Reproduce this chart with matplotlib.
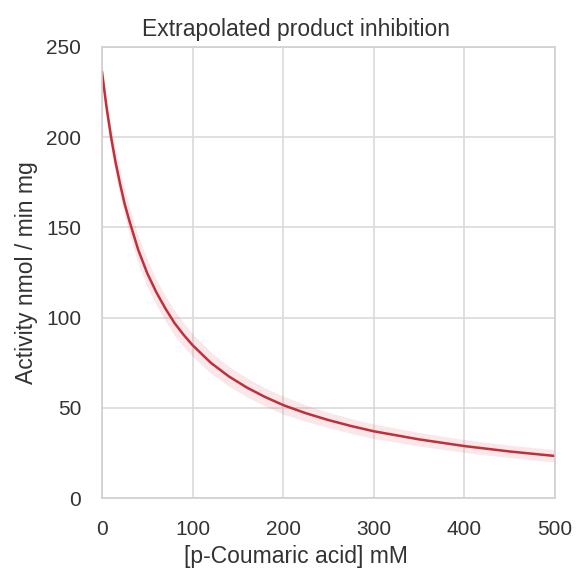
import matplotlib
matplotlib.use("Agg")
import matplotlib.pyplot as plt

plt.rcParams['font.family'] = ['Liberation Sans', 'DejaVu Sans']

# values
conc = [0, 5, 10, 15, 20, 25, 30, 40, 50, 60, 70, 80, 90, 100, 120, 140, 160, 180,
        200, 225, 250, 275, 300, 350, 400, 450, 500]
activity = [236, 216.5, 200, 186, 174, 163, 154, 137.5, 124.5, 114, 105, 97, 90.5, 84.7,
            75, 67.4, 61.2, 56, 51.5, 47, 43.2, 39.9, 37, 32.5, 28.8, 25.8, 23.3]
upper = [241, 222, 206.5, 193, 181, 170.5, 161.5, 145, 132, 121, 112, 104, 97, 91,
         81, 73, 66.5, 61, 56.5, 51.5, 47.5, 44, 41, 36.3, 32.4, 29.3, 26.8]
lower = [231, 211, 193.5, 179, 167, 156, 146.5, 130, 117, 107, 98, 90, 84, 78.5,
         69, 62, 56, 51, 46.5, 42.5, 39, 35.8, 33, 28.8, 25.3, 22.4, 19.9]

fig = plt.figure(figsize=(5.77, 5.71), dpi=100)
ax = fig.add_axes([0.1768, 0.1278, 0.7851, 0.7899])

ax.fill_between(conc, lower, upper, color='#d9606c', alpha=0.15, linewidth=0)
ax.plot(conc, activity, color='#c0303a', linewidth=1.8)

ax.set_xlim(0, 500)
ax.set_ylim(0, 250)
ax.set_xticks([0, 100, 200, 300, 400, 500])
ax.set_yticks([0, 50, 100, 150, 200, 250])
ax.grid(True, color='#dadada', linewidth=1.2)
ax.set_axisbelow(True)
for s in ax.spines.values():
    s.set_color('#d0d0d0')
    s.set_linewidth(1.2)
ax.tick_params(axis='x', length=0, labelsize=15, colors='#333333', pad=16)
ax.tick_params(axis='y', length=0, labelsize=15, colors='#333333', pad=15)

# title and x label sit a bit left of the axes centre in the reference
ax.set_title("Extrapolated product inhibition", fontsize=16.5, color='#333333',
             pad=8, x=0.428)
ax.set_xlabel("[p-Coumaric acid] mM", fontsize=16.5, color='#333333', labelpad=5)
ax.xaxis.set_label_coords(0.428, -0.105)
ax.set_ylabel("Activity nmol / min mg", fontsize=16.5, color='#333333', labelpad=6)

fig.savefig("out.png", dpi=100)
